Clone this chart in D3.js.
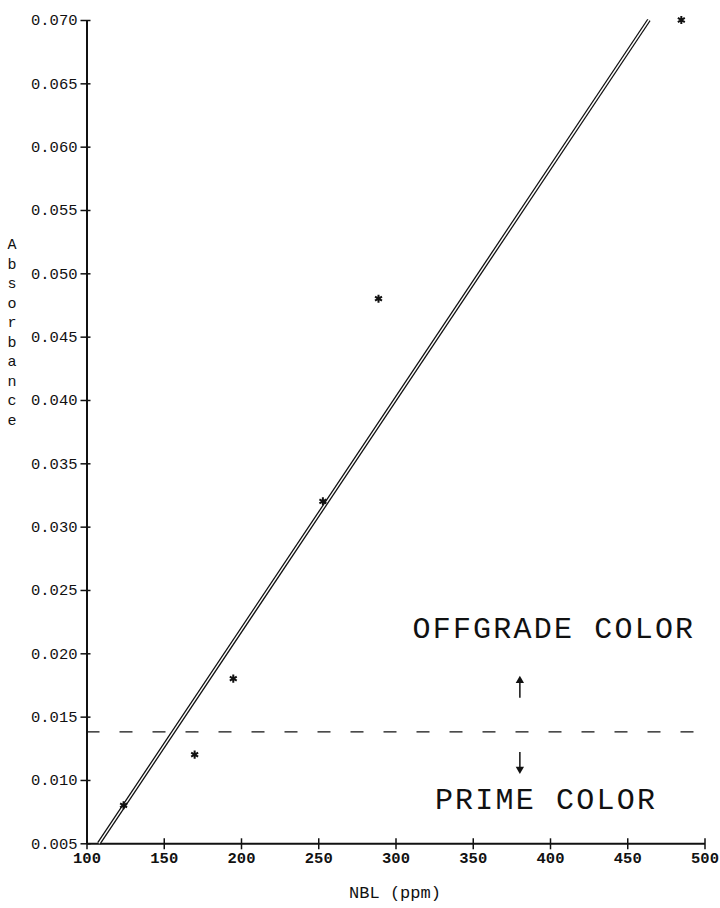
<!DOCTYPE html>
<html>
<head>
<meta charset="utf-8">
<script src="https://cdn.jsdelivr.net/npm/d3@7"></script>
<style>
  body { margin: 0; background: #fff; }
  text { font-family: "Liberation Mono", "DejaVu Sans Mono", monospace; fill: #111; }
</style>
</head>
<body>
<div id="chart"></div>
<script>
// measured points (NBL ppm vs absorbance)
const nbl = [124, 170, 195, 253, 289, 485];
const absorbance = [0.008, 0.012, 0.018, 0.032, 0.048, 0.070];

// fitted line end points
const fitX = [108, 464];
const fitY = [0.005, 0.070];

// offgrade / prime threshold
const threshold = 0.0138;

const xTicks = [100, 150, 200, 250, 300, 350, 400, 450, 500];
const yTicks = [0.005, 0.010, 0.015, 0.020, 0.025, 0.030, 0.035, 0.040, 0.045, 0.050, 0.055, 0.060, 0.065, 0.070];

const margin = { top: 20, right: 15.5, bottom: 64.7, left: 86.5 };
const W = 720, H = 908;
const width = W - margin.left - margin.right;
const height = H - margin.top - margin.bottom;

const svg = d3.select("#chart").append("svg")
    .attr("width", W)
    .attr("height", H);

const g = svg.append("g")
    .attr("transform", `translate(${margin.left},${margin.top})`);

const x = d3.scaleLinear().domain([100, 500]).range([0, width]);
const y = d3.scaleLinear().domain([0.005, 0.070]).range([height, 0]);

// x axis: ticks cross the line
const xAxis = g.append("g")
    .attr("transform", `translate(0,${height})`)
    .call(d3.axisBottom(x).tickValues(xTicks).tickFormat(d3.format("d")).tickSize(0).tickPadding(9));
xAxis.select(".domain").attr("stroke", "#111").attr("stroke-width", 2);
xAxis.selectAll(".tick").append("line")
    .attr("y1", -5).attr("y2", 6)
    .attr("stroke", "#111").attr("stroke-width", 1.5);
xAxis.selectAll("text")
    .style("font-family", "'Liberation Mono', monospace")
    .style("font-size", "15.5px")
    .style("font-weight", "bold")
    .attr("fill", "#111");

// y axis
const yAxis = g.append("g")
    .call(d3.axisLeft(y).tickValues(yTicks).tickFormat(d3.format(".3f")).tickSize(0).tickPadding(9));
yAxis.select(".domain").attr("stroke", "#111").attr("stroke-width", 2);
yAxis.selectAll(".tick").append("line")
    .attr("x1", -6).attr("x2", 4)
    .attr("stroke", "#111").attr("stroke-width", 1.5);
yAxis.selectAll("text")
    .style("font-family", "'Liberation Mono', monospace")
    .style("font-size", "15.5px")
    .attr("fill", "#111");

// axis titles
svg.append("text")
    .attr("x", 395)
    .attr("y", 898)
    .attr("text-anchor", "middle")
    .style("font-size", "17px")
    .text("NBL (ppm)");

const yLabel = "Absorbance".split("");
svg.append("g").selectAll("text")
    .data(yLabel)
    .join("text")
    .attr("x", 12)
    .attr("y", (d, i) => 249 + i * 19.5)
    .attr("text-anchor", "middle")
    .style("font-size", "15px")
    .text(d => d);

// threshold dashed line
g.append("line")
    .attr("x1", 0).attr("x2", width)
    .attr("y1", y(threshold)).attr("y2", y(threshold))
    .attr("stroke", "#111")
    .attr("stroke-width", 1.3)
    .attr("stroke-dasharray", "13 20");

// double fitted line: thick black with white core
const fitData = fitX.map((d, i) => [d, fitY[i]]);
const fitLine = d3.line().x(d => x(d[0])).y(d => y(d[1]));
g.append("path").datum(fitData)
    .attr("d", fitLine)
    .attr("fill", "none")
    .attr("stroke", "#111")
    .attr("stroke-width", 4);
g.append("path").datum(fitData)
    .attr("d", fitLine)
    .attr("fill", "none")
    .attr("stroke", "#fff")
    .attr("stroke-width", 1.4);

// data points as asterisks
const star = d3.symbol().type(d3.symbolAsterisk).size(45);
g.selectAll(".pt")
    .data(nbl.map((d, i) => ({ x: d, y: absorbance[i] })))
    .join("path")
    .attr("class", "pt")
    .attr("transform", d => `translate(${x(d.x)},${y(d.y)})`)
    .attr("d", star)
    .attr("fill", "none")
    .attr("stroke", "#111")
    .attr("stroke-width", 2);

// annotations
g.append("text")
    .attr("x", x(311))
    .attr("y", y(0.0212))
    .style("font-size", "30px")
    .style("letter-spacing", "2.2px")
    .text("OFFGRADE COLOR");

g.append("text")
    .attr("x", x(325.5))
    .attr("y", y(0.0077))
    .style("font-size", "30px")
    .style("letter-spacing", "2.2px")
    .text("PRIME COLOR");

// arrows
const arrowX = 380.5;
g.append("line")
    .attr("x1", x(arrowX)).attr("x2", x(arrowX))
    .attr("y1", y(0.0165)).attr("y2", y(0.0180))
    .attr("stroke", "#111").attr("stroke-width", 1.5);
g.append("path")
    .attr("d", d3.symbol().type(d3.symbolTriangle).size(30))
    .attr("transform", `translate(${x(arrowX)},${y(0.0180) + 2})`)
    .attr("fill", "#111");

g.append("line")
    .attr("x1", x(arrowX)).attr("x2", x(arrowX))
    .attr("y1", y(0.0122)).attr("y2", y(0.0107))
    .attr("stroke", "#111").attr("stroke-width", 1.5);
g.append("path")
    .attr("d", d3.symbol().type(d3.symbolTriangle).size(30))
    .attr("transform", `translate(${x(arrowX)},${y(0.0107) - 2}) rotate(180)`)
    .attr("fill", "#111");
</script>
</body>
</html>
